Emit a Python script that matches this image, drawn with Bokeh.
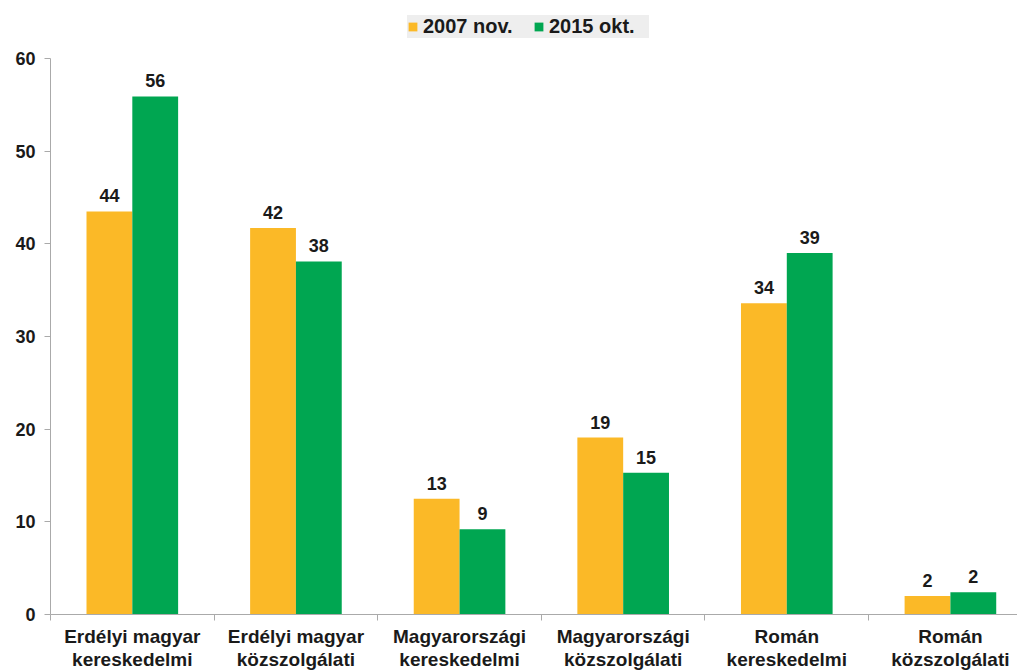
from bokeh.plotting import figure
from bokeh.layouts import column
from bokeh.models import ColumnDataSource, Range1d, FixedTicker, Legend, LegendItem, LabelSet
from bokeh.embed import file_html
from bokeh.resources import INLINE
from bokeh.core.properties import value

categories = ["Erdélyi magyar\nkereskedelmi", "Erdélyi magyar\nközszolgálati",
              "Magyarországi\nkereskedelmi", "Magyarországi\nközszolgálati",
              "Román\nkereskedelmi", "Román\nközszolgálati"]
series_names = ["2007 nov.", "2015 okt."]
values_2007 = [43.5, 41.7, 12.5, 19.1, 33.6, 2.0]
values_2015 = [55.9, 38.1, 9.2, 15.3, 39.0, 2.4]
labels_2007 = ["44", "42", "13", "19", "34", "2"]
labels_2015 = ["56", "38", "9", "15", "39", "2"]
y_ticks = [0, 10, 20, 30, 40, 50, 60]

ORANGE = "#FBB927"
GREEN = "#00A651"
FONT = "Liberation Sans"

n = len(categories)
centers = [i + 0.5 for i in range(n)]
bw = 0.28
src07 = ColumnDataSource(dict(x=[c - bw / 2 for c in centers], top=values_2007, lab=labels_2007))
src15 = ColumnDataSource(dict(x=[c + bw / 2 for c in centers], top=values_2015, lab=labels_2015))

p = figure(width=1017, height=622, output_backend="svg", toolbar_location=None,
           x_range=Range1d(0, 5.91), y_range=Range1d(0, 60),
           min_border_left=50, min_border_right=0, min_border_bottom=57, min_border_top=8)
p.outline_line_color = None
p.grid.visible = False
p.background_fill_color = "white"

r07 = p.vbar(x="x", top="top", width=bw, source=src07, color=ORANGE, line_color=None)
r15 = p.vbar(x="x", top="top", width=bw, source=src15, color=GREEN, line_color=None)

for s in (src07, src15):
    p.add_layout(LabelSet(x="x", y="top", text="lab", source=s, text_align="center",
                          text_baseline="bottom", y_offset=9, text_font=value(FONT),
                          text_font_style="bold", text_font_size="18px", text_color="#1a1a1a"))

# x axis
p.xaxis.ticker = FixedTicker(ticks=centers, minor_ticks=list(range(n + 1)))
p.xaxis.major_label_overrides = {c: lab for c, lab in zip(centers, categories)}
p.xaxis.major_tick_out = 0
p.xaxis.major_tick_in = 0
p.xaxis.minor_tick_out = 6
p.xaxis.minor_tick_in = 0
p.xaxis.minor_tick_line_color = "#aaaaaa"
p.xaxis.axis_line_color = "#aaaaaa"
p.xaxis.major_label_text_font = FONT
p.xaxis.major_label_text_font_style = "bold"
p.xaxis.major_label_text_font_size = "19px"
p.xaxis.major_label_text_line_height = 1.1
p.xaxis.major_label_text_color = "#1a1a1a"
p.xaxis.major_label_standoff = 5

# y axis
p.yaxis.ticker = FixedTicker(ticks=y_ticks)
p.yaxis.minor_tick_line_color = None
p.yaxis.major_tick_out = 6
p.yaxis.major_tick_in = 0
p.yaxis.major_tick_line_color = "#aaaaaa"
p.yaxis.axis_line_color = "#aaaaaa"
p.yaxis.major_label_text_font = FONT
p.yaxis.major_label_text_font_style = "bold"
p.yaxis.major_label_text_font_size = "18px"
p.yaxis.major_label_text_color = "#1a1a1a"
p.yaxis.major_label_standoff = 9

# legend in a separate strip above the chart (proxy bars sit outside its visible ranges)
lg = figure(width=1017, height=50, output_backend="svg", toolbar_location=None,
            x_axis_type=None, y_axis_type=None,
            x_range=Range1d(-101, -100), y_range=Range1d(100, 101), min_border=0)
lg.outline_line_color = None
lg.grid.visible = False
d07 = lg.vbar(x="x", top="top", width=bw, source=src07, color=ORANGE, line_color=None)
d15 = lg.vbar(x="x", top="top", width=bw, source=src15, color=GREEN, line_color=None)
legend = Legend(items=[LegendItem(label=series_names[0], renderers=[d07]),
                       LegendItem(label=series_names[1], renderers=[d15])],
                orientation="horizontal", location=(357, 12),
                glyph_width=11, glyph_height=11, label_text_font=FONT,
                label_text_font_style="bold", label_text_font_size="20px",
                label_text_color="#1a1a1a", background_fill_color="#eeeeee",
                background_fill_alpha=1, border_line_color=None, label_width=100,
                spacing=10, padding=6, margin=0, label_standoff=5)
lg.add_layout(legend, "center")

layout = column(lg, p, spacing=0)
open("out.html", "w").write(file_html(layout, INLINE))
